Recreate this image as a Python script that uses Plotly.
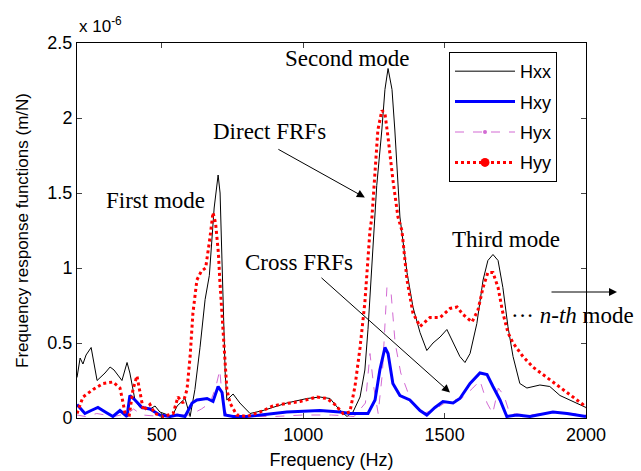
import plotly.graph_objects as go

# Frequency (Hz) and FRF magnitudes (x 1e-6 m/N)
f_hxx = [200, 211, 221, 232, 250, 271, 299, 317, 331, 359, 377, 387, 405, 423, 458, 476, 493, 518, 536, 554,
         582, 600, 617, 635, 653, 668, 685, 699, 706, 712, 718, 724, 730, 752, 776, 812, 858, 942, 1013, 1059,
         1095, 1130, 1155, 1176, 1201, 1218, 1229, 1243, 1260, 1278, 1289, 1300, 1314, 1324, 1342, 1367, 1388,
         1413, 1437, 1459, 1484, 1508, 1530, 1554, 1572, 1590, 1614, 1636, 1653, 1671, 1689, 1706, 1724, 1742,
         1766, 1791, 1837, 1872, 1908, 1954, 2000]
hxx = [0.27, 0.40, 0.36, 0.42, 0.47, 0.25, 0.30, 0.34, 0.32, 0.25, 0.37, 0.30, 0.12, 0.07, 0.06, 0.08, 0.04,
       0.02, 0.01, 0.08, 0.13, 0.01, 0.19, 0.47, 0.79, 0.95, 1.40, 1.62, 1.50, 1.10, 0.60, 0.30, 0.12, 0.16,
       0.10, 0.03, 0.05, 0.10, 0.13, 0.14, 0.13, 0.05, 0.01, 0.04, 0.14, 0.32, 0.59, 1.03, 1.55, 1.92, 2.19,
       2.33, 2.19, 1.92, 1.34, 0.97, 0.74, 0.57, 0.45, 0.50, 0.54, 0.59, 0.50, 0.41, 0.37, 0.43, 0.63, 0.92,
       1.05, 1.09, 1.05, 0.87, 0.61, 0.41, 0.23, 0.20, 0.22, 0.21, 0.15, 0.11, 0.07]

f_hxy = [200, 228, 250, 274, 300, 327, 352, 377, 387, 405, 430, 458, 493, 529, 554, 582, 607, 624, 660, 681,
         699, 713, 723, 752, 800, 847, 907, 942, 1059, 1130, 1165, 1201, 1229, 1254, 1271, 1289, 1300, 1317,
         1342, 1377, 1413, 1437, 1466, 1494, 1530, 1554, 1590, 1625, 1650, 1671, 1696, 1720, 1756, 1802, 1883,
         1933, 2000]
hxy = [0.09, 0.03, 0.05, 0.07, 0.04, 0.01, 0.05, 0.01, 0.15, 0.12, 0.07, 0.06, 0.02, 0.01, 0.02, 0.01, 0.10,
       0.12, 0.13, 0.11, 0.21, 0.17, 0.02, 0.01, 0.01, 0.02, 0.03, 0.04, 0.05, 0.04, 0.03, 0.03, 0.03, 0.12,
       0.32, 0.47, 0.43, 0.23, 0.15, 0.12, 0.05, 0.02, 0.07, 0.11, 0.10, 0.13, 0.23, 0.30, 0.29, 0.21, 0.12,
       0.01, 0.02, 0.01, 0.04, 0.03, 0.01]

f_hyx = [200, 230, 270, 330, 380, 400, 430, 500, 560, 600, 640, 670, 690, 705, 715, 730, 800, 900, 1000, 1100,
         1180, 1220, 1236, 1250, 1265, 1280, 1296, 1310, 1325, 1345, 1380, 1420, 1460, 1500, 1530, 1560, 1600,
         1625, 1650, 1670, 1690, 1710, 1730, 1800, 1900, 2000]
hyx = [0.02, 0.01, 0.03, 0.01, 0.03, 0.06, 0.02, 0.01, 0.02, 0.02, 0.06, 0.10, 0.20, 0.32, 0.10, 0.02, 0.01,
       0.01, 0.02, 0.02, 0.01, 0.10, 0.43, 0.20, 0.03, 0.30, 0.87, 0.85, 0.50, 0.30, 0.12, 0.03, 0.05, 0.10,
       0.12, 0.13, 0.20, 0.25, 0.10, 0.03, 0.20, 0.15, 0.03, 0.02, 0.04, 0.02]

f_hyy = [200, 221, 257, 292, 327, 352, 363, 370, 385, 398, 412, 423, 435, 458, 475, 504, 540, 557, 575, 589,
         600, 610, 624, 640, 655, 670, 681, 690, 700, 705, 715, 723, 730, 741, 765, 801, 847, 893, 918, 989,
         1049, 1084, 1112, 1141, 1165, 1183, 1201, 1218, 1236, 1243, 1254, 1264, 1278, 1289, 1300, 1317, 1335,
         1349, 1367, 1388, 1413, 1448, 1484, 1519, 1544, 1565, 1597, 1618, 1636, 1653, 1671, 1689, 1706, 1724,
         1742, 1777, 1812, 1862, 1908, 1954, 1989, 2000]
hyy = [0.03, 0.14, 0.19, 0.23, 0.24, 0.20, 0.10, 0.03, 0.02, 0.19, 0.28, 0.17, 0.05, 0.09, 0.03, 0.01, 0.03,
       0.14, 0.10, 0.19, 0.41, 0.70, 0.92, 0.98, 1.00, 1.20, 1.37, 1.30, 1.10, 0.92, 0.60, 0.38, 0.19, 0.10,
       0.02, 0.01, 0.04, 0.08, 0.09, 0.11, 0.14, 0.13, 0.09, 0.03, 0.04, 0.21, 0.47, 0.77, 1.25, 1.34, 1.65,
       1.92, 2.05, 2.03, 1.87, 1.59, 1.34, 1.25, 0.92, 0.70, 0.61, 0.67, 0.67, 0.73, 0.74, 0.69, 0.64, 0.72,
       0.87, 0.97, 0.97, 0.87, 0.70, 0.57, 0.50, 0.41, 0.34, 0.27, 0.21, 0.14, 0.09, 0.07]

x_ticks = [500, 1000, 1500, 2000]
y_ticks = [0, 0.5, 1, 1.5, 2, 2.5]
y_ticklabels = ["0", "0.5", "1", "1.5", "2", "2.5"]

BLACK = "#000000"
BLUE = "#0000FF"
MAG = "#D36BD3"
RED = "#FF0000"
SANS = "Liberation Sans, Arial, sans-serif"
SERIF = "Liberation Serif, Times New Roman, serif"

fig = go.Figure()
fig.add_trace(go.Scatter(x=f_hxx, y=hxx, mode="lines", line=dict(color=BLACK, width=1), showlegend=False))
fig.add_trace(go.Scatter(x=f_hyx, y=hyx, mode="lines", line=dict(color=MAG, width=1, dash="dash"), showlegend=False))
fig.add_trace(go.Scatter(x=f_hxy, y=hxy, mode="lines", line=dict(color=BLUE, width=3), showlegend=False))
fig.add_trace(go.Scatter(x=f_hyy, y=hyy, mode="lines", line=dict(color=RED, width=3, dash="dot"), showlegend=False))

# legend entries
fig.add_trace(go.Scatter(x=[None], y=[None], mode="lines", name="Hxx", legendgroup="a",
                         line=dict(color="#555555", width=1.5)))
fig.add_trace(go.Scatter(x=[None], y=[None], mode="lines", name="Hxy", legendgroup="b",
                         line=dict(color=BLUE, width=3)))
fig.add_trace(go.Scatter(x=[None], y=[None], mode="lines+markers", name="Hyx", legendgroup="c",
                         line=dict(color=MAG, width=1, dash="dash"), marker=dict(color=MAG, size=4)))
fig.add_trace(go.Scatter(x=[None], y=[None], mode="lines+markers", name="Hyy", legendgroup="d",
                         line=dict(color=RED, width=3, dash="dot"), marker=dict(color=RED, size=9)))

ann_font = dict(family=SERIF, size=23, color="black")
texts = [
    ("First mode", 476, 1.45),
    ("Second mode", 1155, 2.4),
    ("Direct FRFs", 879, 1.91),
    ("Cross FRFs", 985, 1.04),
    ("Third mode", 1717, 1.19),
]
for t, x, y in texts:
    fig.add_annotation(x=x, y=y, text=t, showarrow=False, font=ann_font, xanchor="center", yanchor="middle")

# arrows
fig.add_annotation(x=1218, y=1.47, ax=-88, ay=-49, text="", showarrow=True, arrowhead=2, arrowsize=1.6,
                   arrowwidth=1, arrowcolor="black")
fig.add_annotation(x=1519, y=0.17, ax=-130, ay=-116, text="", showarrow=True, arrowhead=2, arrowsize=1.6,
                   arrowwidth=1, arrowcolor="black")
fig.add_annotation(x=(617 - 77) / 509, y=(418 - 292) / 375, xref="paper", yref="paper", ax=-67, ay=0,
                   text="", showarrow=True, arrowhead=2, arrowsize=1.6, arrowwidth=1, arrowcolor="black")
fig.add_annotation(x=(509 - 77) / 509, y=(418 - 315) / 375, xref="paper", yref="paper", xanchor="left",
                   yanchor="middle", showarrow=False, font=ann_font,
                   text="\u00b7\u00b7\u00b7 <i>n-th</i> mode")

# exponent label
fig.add_annotation(x=0.0, y=(418 - 25) / 375, xref="paper", yref="paper", xanchor="left", yanchor="middle",
                   showarrow=False, font=dict(family=SANS, size=17, color="black"),
                   text="x 10<sup>-6</sup>")

fig.update_layout(
    width=641, height=471,
    margin=dict(l=77, r=55, t=43, b=53, autoexpand=False),
    paper_bgcolor="white", plot_bgcolor="white",
    font=dict(family=SANS, size=18, color="black"),
    legend=dict(x=(449 - 77) / 509, y=(418 - 52) / 375, xanchor="left", yanchor="top",
                bordercolor="black", borderwidth=1, bgcolor="white",
                font=dict(family=SANS, size=18), traceorder="grouped", tracegroupgap=4,
                itemwidth=60),
    xaxis=dict(range=[200, 2000], tickvals=x_ticks, ticks="inside", ticklen=5, showline=True,
               linecolor="black", linewidth=1, mirror="ticks", showgrid=False, zeroline=False,
               automargin=False,
               title=dict(text="Frequency (Hz)", standoff=9, font=dict(size=18))),
    yaxis=dict(range=[0, 2.5], tickvals=y_ticks, ticktext=y_ticklabels, ticks="inside", ticklen=5,
               showline=True, linecolor="black", linewidth=1, mirror="ticks", showgrid=False,
               zeroline=False, automargin=False,
               title=dict(text="Frequency response functions (m/N)", standoff=14, font=dict(size=17))),
)

fig.write_html("out.html")
